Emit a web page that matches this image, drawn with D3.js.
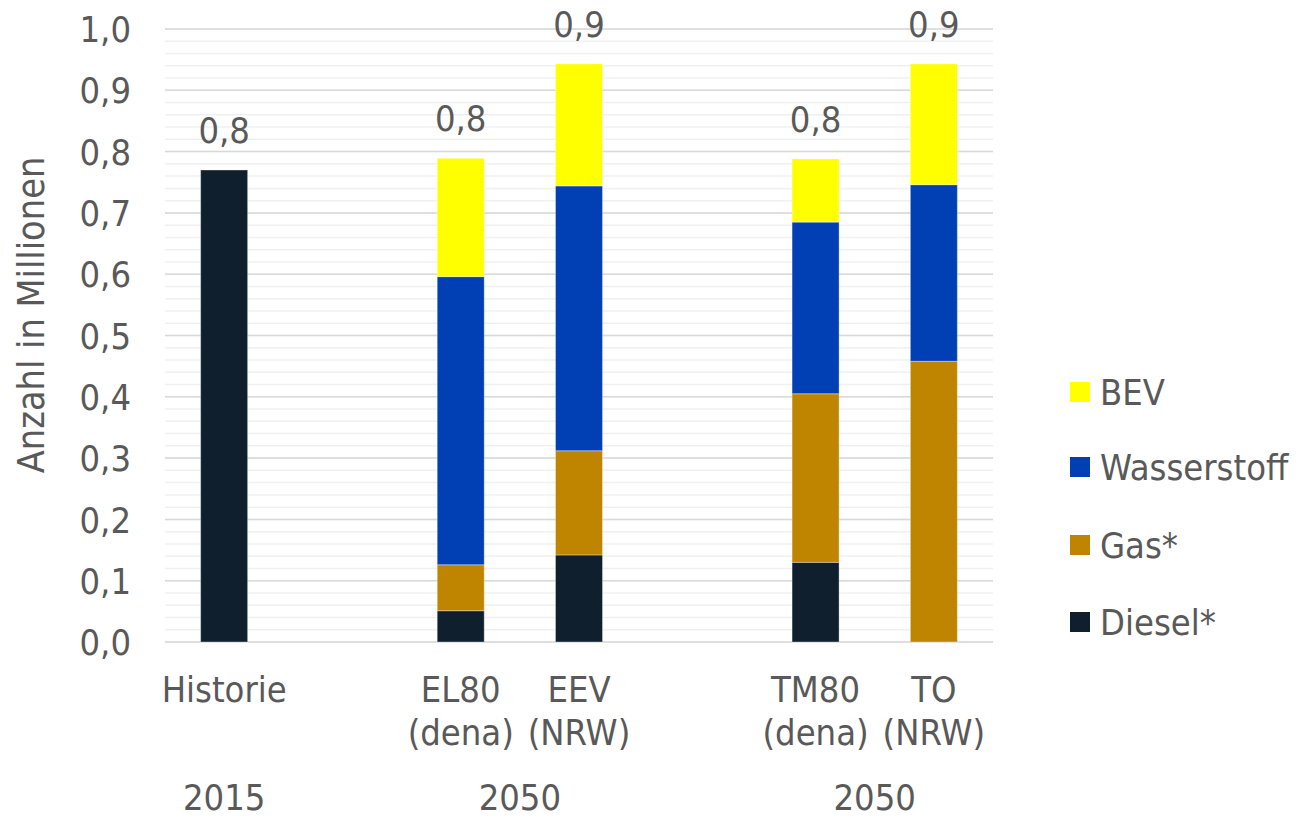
<!DOCTYPE html>
<html><head><meta charset="utf-8">
<script src="https://cdn.jsdelivr.net/npm/d3@7"></script>
<style>
html,body{margin:0;padding:0;background:#fff;}
svg{display:block;}
text{font-family:"DejaVu Sans Condensed","DejaVu Sans",sans-serif;font-stretch:condensed;fill:#595959;}
</style></head><body>
<svg id="c" width="1299" height="818"></svg>
<script>
const slots = ["Historie","gap1","EL80","EEV","gap2","TM80","TO"];
const categories = ["Historie","EL80","EEV","TM80","TO"];
const catLine1 = ["Historie","EL80","EEV","TM80","TO"];
const catLine2 = ["","(dena)","(NRW)","(dena)","(NRW)"];
const series = ["Diesel*","Gas*","Wasserstoff","BEV"];
const diesel = [0.770,0.051,0.142,0.130,0.000];
const gas = [0.000,0.075,0.170,0.275,0.458];
const wasserstoff = [0.000,0.470,0.432,0.280,0.288];
const bev = [0.000,0.193,0.199,0.103,0.197];
const totalLabels = ["0,8","0,8","0,9","0,8","0,9"];
const yTicks = [0,0.1,0.2,0.3,0.4,0.5,0.6,0.7,0.8,0.9,1.0];
const yearGroups = [{label:"2015",cats:["Historie"]},{label:"2050",cats:["EL80","EEV"]},{label:"2050",cats:["TM80","TO"]}];
const colors = {"Diesel*":"#101F2E","Gas*":"#BF8400","Wasserstoff":"#003FB4","BEV":"#FFFF00"};

const svg = d3.select("#c");
const L=165,R=993,T=29,B=642;
const x = d3.scaleBand().domain(slots).range([L,R]).paddingInner(0).paddingOuter(0);
const y = d3.scaleLinear().domain([0,1]).range([B,T]);
const barW = 47;

// gridlines
const minor = d3.range(0,1.0001,0.02);
svg.append("g").selectAll("line").data(minor).join("line")
  .attr("x1",L).attr("x2",R).attr("y1",d=>y(d)).attr("y2",d=>y(d))
  .attr("stroke","#f0f0f0").attr("stroke-width",1.5);
svg.append("g").selectAll("line").data(yTicks).join("line")
  .attr("x1",L).attr("x2",R).attr("y1",d=>y(d)).attr("y2",d=>y(d))
  .attr("stroke","#d9d9d9").attr("stroke-width",1.5);

// y axis labels
const yAxis = d3.axisLeft(y).tickValues(yTicks).tickSize(0).tickPadding(0)
  .tickFormat(d=>d3.format(".1f")(d).replace(".",","));
const ya = svg.append("g").attr("transform",`translate(131,0)`).call(yAxis);
ya.select(".domain").remove();
ya.selectAll("text").attr("font-size",36).attr("fill","#595959")
  .style("font-family",'"DejaVu Sans Condensed","DejaVu Sans",sans-serif').attr("dy","0.35em");

// axis title
svg.append("text").attr("transform","translate(44,315) rotate(-90)")
  .attr("text-anchor","middle").attr("font-size",37.5).attr("fill","#6a6a6a").text("Anzahl in Millionen");

// stacked bars
const data = categories.map((c,i)=>({cat:c,"Diesel*":diesel[i],"Gas*":gas[i],"Wasserstoff":wasserstoff[i],"BEV":bev[i]}));
const stack = d3.stack().keys(series)(data);
svg.append("g").selectAll("g").data(stack).join("g").attr("fill",d=>colors[d.key])
  .selectAll("rect").data(d=>d.filter(e=>e[1]-e[0]>0)).join("rect")
  .attr("x",d=>x(d.data.cat)+x.bandwidth()/2-barW/2).attr("width",barW)
  .attr("y",d=>y(d[1])).attr("height",d=>y(d[0])-y(d[1]))
  .attr("stroke","rgba(255,255,255,0.35)").attr("stroke-width",1);

// totals
svg.append("g").selectAll("text").data(categories).join("text")
  .attr("x",c=>x(c)+x.bandwidth()/2)
  .attr("y",(c,i)=>y(diesel[i]+gas[i]+wasserstoff[i]+bev[i])-27)
  .attr("text-anchor","middle").attr("font-size",36).text((c,i)=>totalLabels[i]);

// category labels
const cl = svg.append("g");
categories.forEach((c,i)=>{
  const cx = x(c)+x.bandwidth()/2;
  cl.append("text").attr("x",cx).attr("y",702).attr("text-anchor","middle").attr("font-size",36).text(catLine1[i]);
  if(catLine2[i]) cl.append("text").attr("x",cx).attr("y",745).attr("text-anchor","middle").attr("font-size",36).text(catLine2[i]);
});
// year labels
yearGroups.forEach(g=>{
  const xs = g.cats.map(c=>x(c)+x.bandwidth()/2);
  svg.append("text").attr("x",d3.mean(xs)).attr("y",810).attr("text-anchor","middle").attr("font-size",36).text(g.label);
});

// legend
const legOrder = ["BEV","Wasserstoff","Gas*","Diesel*"];
const legY = [392,467,545,622];
const lg = svg.append("g");
legOrder.forEach((k,i)=>{
  lg.append("rect").attr("x",1070).attr("y",legY[i]-10).attr("width",20).attr("height",20).attr("fill",colors[k]);
  lg.append("text").attr("x",1100).attr("y",legY[i]).attr("dy","0.35em").attr("font-size",36).text(k);
});
</script>
</body></html>
